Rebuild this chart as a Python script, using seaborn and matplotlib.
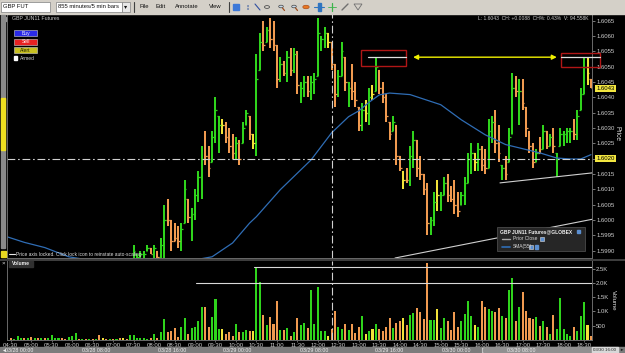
import numpy as np
import pandas as pd
import matplotlib
matplotlib.use("Agg")
import matplotlib.pyplot as plt
from matplotlib.patches import Rectangle, Circle, Polygon
from matplotlib.lines import Line2D
import seaborn as sns

# ---------------------------------------------------------------- data
# bar tone per 5-min bar (g = up, o = down, y = unchanged), 172 bars
bar_tone = ("goggg" "ogogo" "goggg" "googg" "gogog" "ogoyo" "gogoy" "og"
            "ggggg" "ogogg" "oooog" "goggg" "googg" "gyooo" "goggo" "yggog"
            "ooogo" "gogog" "goggg" "ggyoo" "ggogo" "oogyg" "ygooo" "ogooy"
            "oggoo" "ooggy" "ggooo" "ogggg" "ygoog" "googo" "ggogo" "ooogo"
            "gogog" "ggggo" "gggyo")

volume = [80, 60, 40, 150, 60, 60, 80, 120, 60, 60,
          60, 60, 60, 175, 80, 80, 80, 50, 120, 130,
          245, 50, 40, 30, 40, 50, 40, 175, 80, 40,
          50, 40, 50, 60, 80, 50, 175, 175, 60, 60,
          80, 50, 80, 220, 60, 290, 720, 290, 330, 430,
          120, 455, 780, 220, 430, 470, 665, 1140, 1140, 455,
          790, 1420, 385, 385, 220, 290, 150, 560, 290, 290,
          360, 315, 315, 2570, 2020, 875, 525, 815, 560, 1350,
          360, 360, 410, 150, 290, 760, 525, 580, 410, 1750,
          560, 1870, 315, 315, 150, 385, 1030, 455, 385, 560,
          350, 560, 245, 455, 840, 210, 330, 400, 560, 385,
          315, 455, 760, 410, 580, 650, 780, 525, 875, 945,
          1110, 990, 735, 2700, 690, 690, 1085, 430, 760, 665,
          350, 970, 465, 665, 910, 1380, 850, 525, 455, 1365,
          1165, 1085, 1015, 990, 1110, 830, 780, 1760, 2160, 665,
          1140, 1690, 1015, 780, 735, 805, 500, 665, 455, 220,
          875, 385, 1460, 385, 220, 130, 465, 315, 850, 1320,
          525, 150]

# bars before this one sit below the locked price scale
first_price_bar = 37
high = [1.5992, 1.5989, 1.5990, 1.5990, 1.5992, 1.5991, 1.5992, 1.5990, 1.5994, 1.6005,
        1.6007, 1.6000, 1.5999, 1.5998, 1.5999, 1.6013, 1.6007, 1.6004, 1.6010, 1.6016,
        1.6024, 1.6029, 1.6024, 1.6029, 1.6040, 1.6034, 1.6033, 1.6032, 1.6030, 1.6028,
        1.6027, 1.6026, 1.6032, 1.6036, 1.6034, 1.6028, 1.6054, 1.6061, 1.6065, 1.6063,
        1.6066, 1.6065, 1.6057, 1.6053, 1.6052, 1.6055, 1.6056, 1.6056, 1.6055, 1.6045,
        1.6047, 1.6047, 1.6047, 1.6048, 1.6066, 1.6060, 1.6063, 1.6061, 1.6058, 1.6051,
        1.6049, 1.6058, 1.6053, 1.6045, 1.6051, 1.6045, 1.6037, 1.6038, 1.6039, 1.6043,
        1.6044, 1.6053, 1.6049, 1.6045, 1.6041, 1.6032, 1.6034, 1.6031, 1.6021, 1.6016,
        1.6017, 1.6024, 1.6029, 1.6026, 1.6021, 1.6015, 1.6012, 1.6001, 1.6009, 1.6013,
        1.6009, 1.6014, 1.6015, 1.6011, 1.6013, 1.6009, 1.6009, 1.6014, 1.6022, 1.6025,
        1.6022, 1.6025, 1.6024, 1.6023, 1.6033, 1.6034, 1.6036, 1.6031, 1.6018, 1.6021,
        1.6030, 1.6048, 1.6047, 1.6046, 1.6046, 1.6037, 1.6029, 1.6025, 1.6023, 1.6027,
        1.6031, 1.6029, 1.6028, 1.6030, 1.6022, 1.6030, 1.6029, 1.6030, 1.6030, 1.6033,
        1.6036, 1.6043, 1.6053, 1.6053, 1.6046]
low = [1.5986, 1.5985, 1.5986, 1.5986, 1.5990, 1.5989, 1.5987, 1.5987, 1.5987, 1.5987,
       1.5998, 1.5990, 1.5993, 1.5991, 1.5990, 1.5999, 1.5999, 1.5993, 1.6000, 1.6006,
       1.6007, 1.6018, 1.6014, 1.6019, 1.6025, 1.6022, 1.6028, 1.6025, 1.6022, 1.6020,
       1.6020, 1.6018, 1.6025, 1.6031, 1.6026, 1.6023, 1.6021, 1.6049, 1.6055, 1.6058,
       1.6056, 1.6055, 1.6043, 1.6045, 1.6047, 1.6045, 1.6047, 1.6048, 1.6041, 1.6038,
       1.6040, 1.6040, 1.6039, 1.6041, 1.6047, 1.6055, 1.6056, 1.6056, 1.6049, 1.6037,
       1.6040, 1.6047, 1.6042, 1.6037, 1.6039, 1.6037, 1.6029, 1.6029, 1.6032, 1.6031,
       1.6039, 1.6042, 1.6041, 1.6038, 1.6032, 1.6026, 1.6029, 1.6018, 1.6016, 1.6010,
       1.6012, 1.6011, 1.6017, 1.6014, 1.6013, 1.6008, 1.5995, 1.5995, 1.5998, 1.6003,
       1.6003, 1.6008, 1.6006, 1.6006, 1.6002, 1.6001, 1.6005, 1.6005, 1.6012, 1.6015,
       1.6016, 1.6016, 1.6016, 1.6015, 1.6017, 1.6025, 1.6022, 1.6019, 1.6013, 1.6013,
       1.6019, 1.6028, 1.6040, 1.6031, 1.6036, 1.6027, 1.6022, 1.6017, 1.6019, 1.6022,
       1.6023, 1.6023, 1.6024, 1.6022, 1.6014, 1.6024, 1.6024, 1.6025, 1.6025, 1.6026,
       1.6026, 1.6036, 1.6041, 1.6044, 1.6043]
close = [1.5990, 1.5988, 1.5989, 1.5989, 1.5991, 1.5989, 1.5991, 1.5988, 1.5992, 1.6000,
         1.6000, 1.5993, 1.5994, 1.5993, 1.5997, 1.6010, 1.6001, 1.6002, 1.6008, 1.6014,
         1.6020, 1.6021, 1.6017, 1.6027, 1.6036, 1.6031, 1.6031, 1.6027, 1.6024, 1.6022,
         1.6025, 1.6020, 1.6030, 1.6035, 1.6028, 1.6025, 1.6046, 1.6058, 1.6057, 1.6062,
         1.6059, 1.6057, 1.6046, 1.6051, 1.6048, 1.6053, 1.6049, 1.6054, 1.6044, 1.6043,
         1.6045, 1.6042, 1.6045, 1.6046, 1.6061, 1.6059, 1.6061, 1.6058, 1.6051, 1.6041,
         1.6047, 1.6055, 1.6045, 1.6043, 1.6042, 1.6039, 1.6031, 1.6036, 1.6035, 1.6040,
         1.6041, 1.6050, 1.6043, 1.6040, 1.6034, 1.6028, 1.6032, 1.6021, 1.6017, 1.6013,
         1.6013, 1.6021, 1.6026, 1.6017, 1.6015, 1.6010, 1.5999, 1.6000, 1.6006, 1.6008,
         1.6008, 1.6012, 1.6008, 1.6007, 1.6005, 1.6003, 1.6008, 1.6012, 1.6020, 1.6022,
         1.6019, 1.6023, 1.6018, 1.6017, 1.6029, 1.6032, 1.6025, 1.6022, 1.6017, 1.6015,
         1.6027, 1.6043, 1.6042, 1.6042, 1.6038, 1.6030, 1.6024, 1.6019, 1.6022, 1.6023,
         1.6029, 1.6024, 1.6027, 1.6024, 1.6020, 1.6028, 1.6028, 1.6029, 1.6029, 1.6028,
         1.6034, 1.6041, 1.6050, 1.6048, 1.6043]

# SMA(55) readings (bar index, value)
sma_bar = [0, 5, 11, 18, 40, 60, 66, 71, 73, 80, 89, 95, 100, 103, 106, 109,
           112, 118, 127, 133, 140, 146, 156, 161, 165, 168, 171]
sma_val = [1.59945, 1.59927, 1.59910, 1.59880, 1.59840, 1.59880, 1.59925, 1.59990,
           1.60011, 1.60099, 1.60196, 1.60284, 1.60337, 1.60356, 1.60384, 1.60408,
           1.60414, 1.60409, 1.60376, 1.60327, 1.60278, 1.60246, 1.60219, 1.60202,
           1.60199, 1.60199, 1.60213]

prior_close = 1.6020
price_ticks = [1.5990, 1.5995, 1.6000, 1.6005, 1.6010, 1.6015, 1.6020, 1.6025,
               1.6030, 1.6035, 1.6040, 1.6045, 1.6050, 1.6055, 1.6060, 1.6065]
vol_ticks = [500, 1000, 1500, 2000, 2500]
vol_tick_labels = ["500", "1.0K", "1.5K", "2.0K", "2.5K"]
time_labels = ["04:30", "05:00", "05:30", "06:00", "06:30", "07:00", "07:30", "08:00",
               "08:30", "09:00", "09:30", "10:00", "10:30", "11:00", "11:30", "12:00",
               "12:30", "13:00", "13:30", "14:00", "14:30", "15:00", "15:30", "16:00",
               "16:30", "17:00", "17:30", "18:00", "18:30"]
date_labels = ["03/28 00:00", "03/28 08:00", "03/28 16:00", "03/29 00:00", "03/29 08:00",
               "03/29 16:00", "03/30 00:00", "03/30 08:00", "03/30 16:00"]
date_label_px = [5, 82, 158, 223, 300, 375, 442, 507, 593]

# user drawings (bar index, price)
double_top = 1.60531
box_1 = (103.6, 1.60501, 116.7, 1.60553)
box_2 = (162.2, 1.60499, 173.6, 1.60546)
arrow_span = (118.9, 161.0)
trend_lines = [((144.35, 1.60121), (171.7, 1.60154)),
               ((113.6, 1.59876), (171.7, 1.60003))]
crosshair_bar = 95.05
vol_lines = [(72.3, 2570), (55.2, 1990)]

# ---------------------------------------------------------------- style
sns.set_theme(style="dark")
plt.rcParams.update({"axes.facecolor": "black", "figure.facecolor": "black",
                     "savefig.facecolor": "black", "patch.force_edgecolor": False})
plt.rcParams["font.family"] = ["Liberation Sans", "DejaVu Sans"]

pal = {"g": "#2fd41c", "o": "#f09a50", "y": "#f2e33a"}
tones = list(bar_tone)
colors = [pal[t] for t in tones]
n = len(volume)
idx = np.arange(n)

W, H = 625, 353
fig = plt.figure(figsize=(W / 100, H / 100), dpi=100)


def fx(x):
    return x / W


def fy(y):
    return 1 - y / H


def frect(x0, y0, x1, y1, **kw):
    fig.add_artist(Rectangle((fx(x0), fy(y1)), (x1 - x0) / W, (y1 - y0) / H,
                             transform=fig.transFigure, **kw))


def fline(x0, y0, x1, y1, **kw):
    fig.add_artist(Line2D([fx(x0), fx(x1)], [fy(y0), fy(y1)], transform=fig.transFigure, **kw))


def ftext(x, y, s, **kw):
    kw.setdefault("color", "#d8d8d8")
    kw.setdefault("fontsize", 4.2)
    kw.setdefault("va", "center")
    fig.text(fx(x), fy(y), s, **kw)


bar_px, x0_px = 3.413, 7.3
xlim = ((7 - x0_px) / bar_px, (592 - x0_px) / bar_px)
ppx = 30660.0
ylim_p = (1.6065 - (258 - 20.7) / ppx, 1.6065 + (20.7 - 14) / ppx)

ax_p = fig.add_axes([fx(7), fy(258), 585 / W, 244 / H])
ax_v = fig.add_axes([fx(7), fy(340), 585 / W, 79 / H])

# ---------------------------------------------------------------- price panel
px = idx[first_price_bar:]
pcol = colors[first_price_bar:]
h = np.array(high)
l = np.array(low)
c = np.array(close)
o = np.clip(np.r_[l[0], c[:-1]], l, h)
ax_p.vlines(px, l, h, colors=pcol, lw=1.45)
ax_p.hlines(o, px - 0.5, px, colors=pcol, lw=0.9)
ax_p.hlines(c, px, px + 0.5, colors=pcol, lw=0.9)

sns.lineplot(x=sma_bar, y=sma_val, ax=ax_p, color="#2f6db5", lw=0.9, legend=False)

dashdot = (0, (7, 2.5, 1.5, 2.5))
ax_p.axhline(prior_close, color="#d0d0d0", lw=0.8, ls=dashdot)
ax_p.axvline(crosshair_bar, color="#d0d0d0", lw=0.8, ls=dashdot)
ax_v.axvline(crosshair_bar, color="#d0d0d0", lw=0.8, ls=dashdot)

for (xa, ya), (xb, yb) in trend_lines:
    ax_p.plot([xa, xb], [ya, yb], color="#d0d0d0", lw=0.8, clip_on=True)

for (bx0, by0, bx1, by1) in (box_1, box_2):
    ax_p.add_patch(Rectangle((bx0, by0), bx1 - bx0, by1 - by0, fill=False,
                             edgecolor="#b01616", lw=1.0, clip_on=False, zorder=5))
ax_p.plot([105.6, box_1[2]], [double_top] * 2, color="#e0e0e0", lw=0.9, zorder=5)
ax_p.plot([box_2[0], box_2[2]], [double_top] * 2, color="#e0e0e0", lw=0.9,
          clip_on=False, zorder=5)
ax_p.annotate("", xy=(arrow_span[0], double_top), xytext=(arrow_span[1], double_top),
              arrowprops=dict(arrowstyle="<|-|>", color="#f0f000", lw=1.0,
                              mutation_scale=7, shrinkA=0, shrinkB=0), zorder=6)

ax_p.set_xlim(*xlim)
ax_p.set_ylim(*ylim_p)
ax_p.set_xticks([])
ax_p.yaxis.tick_right()
ax_p.set_yticks(price_ticks)
ax_p.set_yticklabels([f"{p:.4f}" for p in price_ticks])
ax_p.tick_params(axis="y", which="both", right=True, length=1.8, width=0.6, pad=1.2,
                 colors="#8a8a8a", labelsize=4.3, labelcolor="#cfcfcf")
ax_p.set_xlabel("")
ax_p.set_ylabel("")
for side, sp in ax_p.spines.items():
    sp.set_visible(side in ("right", "left", "bottom"))
    sp.set_color("#6a6a6a")
    sp.set_linewidth(0.7)

ytf = ax_p.get_yaxis_transform()
for val in (close[-1], prior_close):
    ax_p.text(1.0075, val, f"{val:.4f}", transform=ytf, fontsize=4.3, color="black",
              va="center", ha="left", zorder=10, clip_on=False,
              bbox=dict(boxstyle="square,pad=0.15", fc="#f2e640", ec="none"))

# ---------------------------------------------------------------- volume panel
df_vol = pd.DataFrame({"bar": idx, "volume": volume, "tone": tones})
sns.barplot(data=df_vol, x="bar", y="volume", hue="tone", palette=pal, native_scale=True,
            dodge=False, width=0.6, errorbar=None, saturation=1, legend=False, ax=ax_v,
            edgecolor="none", linewidth=0)
for xs, lvl in vol_lines:
    ax_v.plot([xs, xlim[1]], [lvl, lvl], color="#d8d8d8", lw=0.8)
ax_v.set_xlim(*xlim)
ax_v.set_ylim(0, 79 * 35)
ax_v.set_xlabel("")
ax_v.set_ylabel("")
ax_v.yaxis.tick_right()
ax_v.set_yticks(vol_ticks)
ax_v.set_yticklabels(vol_tick_labels)
ax_v.set_xticks(np.arange(1, 170, 6))
ax_v.set_xticklabels(time_labels)
ax_v.tick_params(axis="y", right=True, left=False, length=1.8, width=0.6, pad=1.2,
                 colors="#8a8a8a", labelsize=4.3, labelcolor="#cfcfcf")
ax_v.tick_params(axis="x", bottom=True, length=1.2, width=0.5, pad=1.0,
                 colors="#8a8a8a", labelsize=4.3, labelcolor="#cfcfcf")
for side, sp in ax_v.spines.items():
    sp.set_visible(side in ("right", "left", "bottom"))
    sp.set_color("#6a6a6a")
    sp.set_linewidth(0.7)

# ---------------------------------------------------------------- chrome
# toolbar
frect(0, 0, 625, 14, color="#d4d0c8", zorder=1)
frect(1, 2, 50, 12, facecolor="white", edgecolor="#808080", lw=0.5, zorder=2)
ftext(3, 7, "GBP FUT", color="#101010", fontsize=4.2)
frect(56, 2, 122, 12, facecolor="white", edgecolor="#808080", lw=0.5, zorder=2)
ftext(58, 7, "855 minutes/5 min bars", color="#101010", fontsize=4.2)
frect(122, 2.5, 130, 11.5, facecolor="#e8e8e8", edgecolor="#808080", lw=0.5, zorder=2)
ftext(126, 7, "▾", color="#101010", fontsize=4.5, ha="center")
for sx in (134, 229):
    fline(sx, 2, sx, 12, color="#404040", lw=0.8, zorder=2)
for tx, word in ((139, "File"), (155, "Edit"), (175, "Annotate"), (209, "View")):
    ftext(tx, 7, word, color="#101010", fontsize=4.2)
frect(233, 4, 239, 10, color="#3c78d8", zorder=2)
ftext(248, 7, "¦¦", color="#4060a0", fontsize=4.2, ha="center")
fline(255, 4, 260, 10, color="#3050a0", lw=0.8, zorder=2)
fig.add_artist(Circle((fx(267), fy(7)), 2.5 / W, transform=fig.transFigure, fill=False,
                      ec="#505050", lw=0.6, zorder=2))
for cx in (281, 294):
    fig.add_artist(Circle((fx(cx), fy(6.5)), 2.3 / W, transform=fig.transFigure,
                          fc="#c8d8e8", ec="#404040", lw=0.5, zorder=2))
    fline(cx + 1.5, 8, cx + 3.5, 10.5, color="#a05020", lw=0.9, zorder=2)
fig.add_artist(Circle((fx(306), fy(7)), 3.2 / W, transform=fig.transFigure,
                      fc="#e87722", ec="#a04010", lw=0.4, zorder=2))
frect(317.5, 3, 320.5, 11, color="#2f74c0", zorder=2)
fline(314, 7, 324, 7, color="#2f74c0", lw=0.8, zorder=2)
fline(332, 3, 332, 11, color="#3cb44b", lw=0.9, zorder=2)
fline(328, 7, 336, 7, color="#3cb44b", lw=0.6, zorder=2)
fline(342, 10, 348, 4, color="#707070", lw=1.0, zorder=2)
fig.add_artist(Polygon([(fx(354), fy(4)), (fx(362), fy(4)), (fx(358), fy(10))],
                       closed=True, transform=fig.transFigure, fc="none", ec="#707070",
                       lw=0.6, zorder=2))

# header texts
frect(2, 16.5, 6, 20.5, color="#9a9a9a", zorder=2)
ftext(12, 18.5, "GBP JUN11 Futures", color="#c8c8c8", fontsize=3.8)
ftext(589, 19, "L: 1.6043  CH: +0.0088  CH%: 0.43%  V: 94.558K",
      color="#c8c8c8", fontsize=3.6, ha="right")

# order buttons
for (y0, y1, fc, lab, tc) in ((30, 36, "#2a2ae8", "Buy", "#e8e8ff"),
                              (38.5, 44.5, "#e82222", "Sell", "#ffe8e8"),
                              (47, 53, "#c8c020", "Alert", "#202000")):
    frect(14, y0, 37, y1, facecolor=fc, edgecolor="#d0d0d0", lw=0.4, zorder=2)
    ftext(25.5, (y0 + y1) / 2, lab, color=tc, fontsize=3.6, ha="center")
frect(14.5, 56.5, 17.5, 59.5, color="white", zorder=2)
ftext(20, 58, "Armed", color="#cfcfcf", fontsize=3.6)

# left scroll strip and lock
frect(1.5, 15, 5, 248, color="#8a8a8a", zorder=2)
frect(1.5, 98, 5, 150, color="#f0e020", zorder=2)
frect(1, 251, 5.5, 256.5, color="#e8d820", zorder=2)
fline(9, 254.3, 15, 254.3, color="#e8e8e8", lw=0.8, zorder=2)
ftext(16, 254.3, "Price axis locked. Click lock icon to reinstate auto-scaling",
      color="#dddddd", fontsize=3.5)

# panel divider and volume tag
fline(0, 259.5, 625, 259.5, color="#4a4a4a", lw=1.2, zorder=2)
ftext(3.5, 263.5, "×", color="#e0e0e0", fontsize=4.5, ha="center")
frect(9, 260.5, 33, 267, color="#303030", zorder=2)
ftext(12, 263.7, "Volume", color="#f0f0f0", fontsize=3.6, fontweight="bold")

# axis titles
ftext(617, 133, "Price", color="#e0e0e0", fontsize=4.8, rotation=270, ha="center")
ftext(613, 300, "Volume", color="#e0e0e0", fontsize=4.5, rotation=270, ha="center")

# legend box
frect(497, 227, 585, 250.5, facecolor="#262626", edgecolor="#4a4a4a", lw=0.6, zorder=2)
ftext(500, 231.5, "GBP JUN11 Futures@GLOBEX", color="#f0f0f0", fontsize=3.5,
      fontweight="bold")
frect(577, 229.5, 580, 233, color="#5b8fd0", zorder=3)
fline(502, 239, 510, 239, color="#a8a8a8", lw=1.0, zorder=3)
ftext(513, 239, "Prior Close", color="#d8d8d8", fontsize=3.5)
frect(539.5, 237, 543.5, 241, facecolor="#5b8fd0", edgecolor="#dddddd", lw=0.4, zorder=3)
fline(502, 246.5, 510, 246.5, color="#2f6db5", lw=1.2, zorder=3)
ftext(513, 246.5, "SMA(55)", color="#d8d8d8", fontsize=3.5)
frect(528.5, 244.5, 532.5, 248.5, facecolor="#5b8fd0", edgecolor="#dddddd", lw=0.4, zorder=3)
frect(535, 245, 538, 248.5, color="#5b8fd0", zorder=3)

# date scroller
frect(0, 347, 625, 353, color="#7c7c7c", zorder=2)
frect(482, 347, 592, 353, color="#909090", zorder=2)
frect(592, 347, 618, 353, color="#d8d8d8", zorder=2)
for xpos, lab in zip(date_label_px, date_labels):
    if xpos > 590:
        ftext(xpos, 350.2, lab, color="#202020", fontsize=3.2)
    else:
        ftext(xpos, 350.2, lab, color="#ececec", fontsize=3.8)
ftext(481.7, 350.2, "[", color="#f0f0f0", fontsize=4)
ftext(1, 350.2, "◄", color="#f0f0f0", fontsize=3.5)
ftext(619.5, 350.2, "►", color="#202020", fontsize=3.2)

fig.savefig("out.png", dpi=100, facecolor="black")
